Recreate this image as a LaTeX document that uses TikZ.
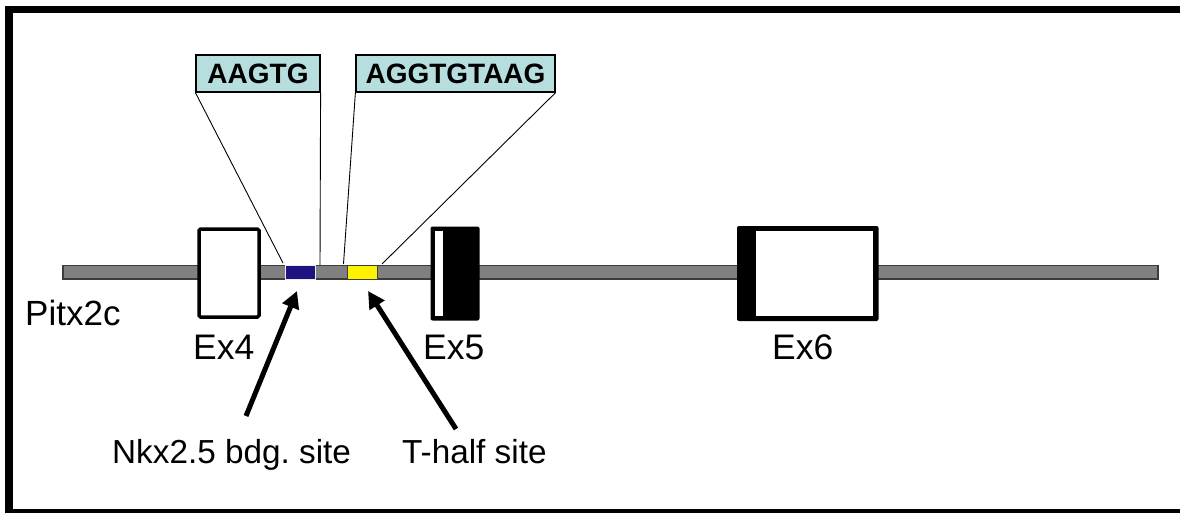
\documentclass[tikz,border=0pt]{standalone}
\usepackage{fontspec}
\setmainfont{Liberation Sans}
\usetikzlibrary{arrows.meta}
\frenchspacing
\definecolor{intron}{HTML}{808080}
\definecolor{introndark}{HTML}{3C3C3C}
\definecolor{navysite}{HTML}{1C1280}
\definecolor{seqfill}{HTML}{B7DEDE}
\tikzset{
  frameband/.style={fill=black, draw=none},
  exonbox/.style={fill=white, draw=black, line width=3.5pt, rounded corners=1.5pt},
  seqbox/.style={draw=black, fill=seqfill, line width=1.2pt, inner sep=0pt,
    minimum height=37pt, font=\fontsize{28}{30}\selectfont\bfseries},
  zoomline/.style={draw=black, line width=0.9pt},
  lbl/.style={inner sep=0pt, anchor=base west, font=\fontsize{33.3}{36}\selectfont},
  exlbl/.style={inner sep=0pt, anchor=base west, font=\fontsize{35.5}{38}\selectfont},
  pointer/.style={line width=5pt, -{Triangle[length=17pt,width=17pt]}},
}
\begin{document}
\begin{tikzpicture}[x=1pt,y=-1pt]
\useasboundingbox (0,0) rectangle (1180,513);
\fill[white] (0,0) rectangle (1180,513);

% open frame: left, top and bottom bands
\path[frameband] (5,6) rectangle (13,513);
\path[frameband] (5,6) rectangle (1180,13);
\path[frameband] (5,509) rectangle (1180,513);

% gene backbone
\draw[fill=intron, draw=introndark, line width=1.4pt] (63,265.5) rectangle (1158,279);

% binding sites
\node[fill=navysite, draw=white!85!gray, line width=1pt, minimum width=30pt, minimum height=14pt, inner sep=0pt]
  (nkxsite) at (300.5,272.5) {};
\node[fill=yellow, draw=introndark, line width=1pt, minimum width=30pt, minimum height=13.5pt, inner sep=0pt]
  (tsite) at (362,272.5) {};

% exon 4
\draw[exonbox] (199,229) rectangle (259,317);
% exon 5: narrow white part, rest coding (black)
\fill[black, rounded corners=2pt] (430.5,226.5) rectangle (479.5,320.5);
\fill[white] (435,231) rectangle (442.5,315.5);
% exon 6: black leading edge, white body
\fill[black, rounded corners=2pt] (737,226) rectangle (878.5,321);
\fill[white] (756,231) rectangle (873,316);

% sequence call-outs
\node[seqbox, minimum width=124pt] (seqA) at (258,73.5) {AAGTG};
\node[seqbox, minimum width=199pt] (seqB) at (455.5,73.5) {AGGTGTAAG};

\coordinate (a1) at (283,263);
\coordinate (a2) at (320,265);
\coordinate (b1) at (343.5,264);
\coordinate (b2) at (382,264);
\draw[zoomline] (seqA.south west) -- (a1);
\draw[zoomline] (seqA.south east) -- (a2);
\draw[zoomline] (seqB.south west) -- (b1);
\draw[zoomline] (seqB.south east) -- (b2);

% labels
\node[lbl, font=\fontsize{35}{38}\selectfont] (gene) at (25,325) {Pitx2c};
\node[exlbl] (ex4) at (193,359) {Ex4};
\node[exlbl] (ex5) at (423,359) {Ex5};
\node[exlbl] (ex6) at (772,359) {Ex6};
\node[lbl] (nkxlbl) at (112,463) {Nkx2.5 bdg. site};
\node[lbl] (tlbl) at (402,463) {T-half site};

% pointers to the sites
\coordinate (nkxtail) at (246,416);
\coordinate (nkxtip) at (297,291);
\coordinate (ttail) at (456,429);
\coordinate (ttip) at (368,291);
\draw[pointer] (nkxtail) -- (nkxtip);
\draw[pointer] (ttail) -- (ttip);
\end{tikzpicture}
\end{document}
